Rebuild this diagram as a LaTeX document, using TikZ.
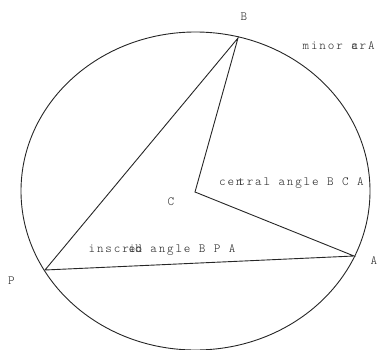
\documentclass[tikz,border=0pt]{standalone}
\usepackage{fontspec}
\newfontfamily\monofnt{lmmonolt10-regular}[Extension=.otf, LetterSpace=14.7]
\begin{document}
\begin{tikzpicture}[x=1pt,y=-1pt,
  lbl/.style={font=\monofnt\fontsize{12.5}{15}\selectfont, text=black!85, inner sep=0pt},
  edge/.style={line width=0.9pt, draw=black!85}]
\useasboundingbox (0,0) rectangle (380,350);
\draw[edge] (195.5,191) ellipse [x radius=174.5, y radius=159];
\coordinate (B) at (238,38);
\coordinate (C) at (195,192);
\coordinate (A) at (354,256);
\coordinate (P) at (45,270);
\draw[edge, line join=miter] (P) -- (B) -- (C) -- (A) -- cycle;
\node[lbl] (lB) at (244,16.5) {B};
\node[lbl] (lC) at (171,201.5) {C};
\node[lbl] (lA) at (374,260.5) {A};
\node[lbl] (lP) at (11.5,280.5) {P};
\node[lbl, anchor=base west] (minor) at (302.5,50) {minor \rlap{a}crA};
\node[lbl, anchor=base west] (central) at (219,185) {cen\kern-4.2pt tral angle B C A};
\node[lbl, anchor=base west] (inscr) at (88.5,252.5) {inscr\rlap{i}e\rlap{b}d angle B P A};
\end{tikzpicture}
\end{document}
